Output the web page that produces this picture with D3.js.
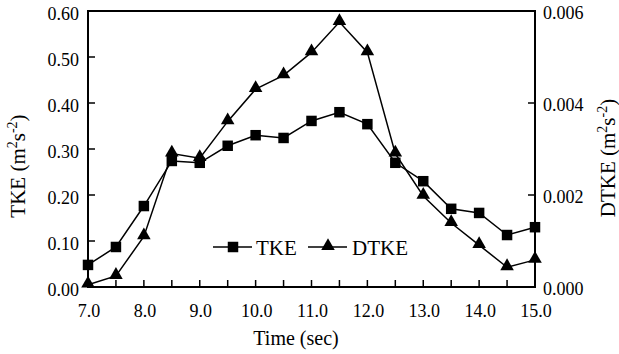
<!DOCTYPE html>
<html><head><meta charset="utf-8">
<script src="https://cdn.jsdelivr.net/npm/d3@7"></script>
<style>body{margin:0;background:#fff}svg{display:block}</style>
</head><body><svg id="c" width="619" height="354"></svg>
<script>
const times = [7.0,7.5,8.0,8.5,9.0,9.5,10.0,10.5,11.0,11.5,12.0,12.5,13.0,13.5,14.0,14.5,15.0];
const tke = [0.048,0.087,0.176,0.274,0.270,0.307,0.330,0.324,0.361,0.380,0.354,0.270,0.230,0.170,0.161,0.113,0.130];
const dtke = [0.00005,0.00024,0.00110,0.00290,0.00280,0.00360,0.00430,0.00460,0.00510,0.00576,0.00510,0.00290,0.00198,0.00139,0.00091,0.00043,0.00059];
const xTicks = [7,8,9,10,11,12,13,14,15];
const xMinor = d3.range(7,15.01,0.5);
const yLeftTicks = [0,0.1,0.2,0.3,0.4,0.5,0.6];
const yRightTicks = [0,0.002,0.004,0.006];

const svg = d3.select("#c").style("font-family",'"Liberation Serif","Times New Roman",serif');
const L=88,R=535,T=11,B=287;
const x = d3.scaleLinear().domain([7,15]).range([L,R]);
const yl = d3.scaleLinear().domain([0,0.6]).range([B,T]);
const yr = d3.scaleLinear().domain([0,0.006]).range([B,T]);

svg.append("rect").attr("x",L).attr("y",T).attr("width",R-L).attr("height",B-T)
  .attr("fill","none").attr("stroke","#000").attr("stroke-width",2);

svg.append("g").selectAll("line").data(xMinor).join("line")
  .attr("x1",d=>x(d)).attr("x2",d=>x(d)).attr("y1",B).attr("y2",B-7)
  .attr("stroke","#000").attr("stroke-width",1.5);
svg.append("g").selectAll("text").data(xTicks).join("text")
  .attr("x",d=>x(d)+1).attr("y",317).attr("text-anchor","middle").attr("font-size",18)
  .text(d=>d.toFixed(1));
svg.append("g").selectAll("line").data(yLeftTicks).join("line")
  .attr("x1",L).attr("x2",L+7).attr("y1",d=>yl(d)).attr("y2",d=>yl(d))
  .attr("stroke","#000").attr("stroke-width",1.5);
svg.append("g").selectAll("text").data(yLeftTicks).join("text")
  .attr("x",L-9).attr("y",d=>yl(d)+8.5).attr("text-anchor","end").attr("font-size",18)
  .text(d=>d.toFixed(2));
svg.append("g").selectAll("line").data(yRightTicks).join("line")
  .attr("x1",R).attr("x2",R-7).attr("y1",d=>yr(d)).attr("y2",d=>yr(d))
  .attr("stroke","#000").attr("stroke-width",1.5);
svg.append("g").selectAll("text").data(yRightTicks).join("text")
  .attr("x",R+8).attr("y",d=>yr(d)+8).attr("text-anchor","start").attr("font-size",18)
  .text(d=>d.toFixed(3));

svg.append("text").attr("x",296).attr("y",345).attr("text-anchor","middle").attr("font-size",20).text("Time (sec)");
function sup(t, base, s1, mid, s2, end){
  t.append("tspan").text(base);
  t.append("tspan").attr("dy",-8).attr("font-size",14).text(s1);
  t.append("tspan").attr("dy",8).text(mid);
  t.append("tspan").attr("dy",-8).attr("font-size",14).text(s2);
  t.append("tspan").attr("dy",8).text(end);
}
const lt = svg.append("text").attr("transform",`translate(25,166) rotate(-90)`).attr("text-anchor","middle").attr("font-size",21);
sup(lt,"TKE (m","2","s","-2",")");
const rt = svg.append("text").attr("transform",`translate(615,158) rotate(-90)`).attr("text-anchor","middle").attr("font-size",21);
sup(rt,"DTKE (m","2","s","-2",")");

const sq = d3.symbol().type(d3.symbolSquare).size(110);
const tri = d3.symbol().type(d3.symbolTriangle).size(80);

const line1 = d3.line().x((d,i)=>x(times[i])).y(d=>yl(d));
const line2 = d3.line().x((d,i)=>x(times[i])).y(d=>yr(d));
svg.append("path").attr("d",line1(tke)).attr("fill","none").attr("stroke","#000").attr("stroke-width",1.5);
svg.append("path").attr("d",line2(dtke)).attr("fill","none").attr("stroke","#000").attr("stroke-width",1.5);
svg.append("g").selectAll("path").data(tke).join("path")
  .attr("transform",(d,i)=>`translate(${x(times[i])},${yl(d)})`).attr("d",sq).attr("fill","#000");
svg.append("g").selectAll("path").data(dtke).join("path")
  .attr("transform",(d,i)=>`translate(${x(times[i])},${yr(d)-1})`).attr("d",tri).attr("fill","#000");

const ly=247;
svg.append("line").attr("x1",213).attr("x2",252).attr("y1",ly).attr("y2",ly).attr("stroke","#000").attr("stroke-width",1.5);
svg.append("path").attr("transform",`translate(233,${ly})`).attr("d",sq).attr("fill","#000");
svg.append("text").attr("x",256).attr("y",ly+8).attr("font-size",21).text("TKE");
svg.append("line").attr("x1",308).attr("x2",347).attr("y1",ly).attr("y2",ly).attr("stroke","#000").attr("stroke-width",1.5);
svg.append("path").attr("transform",`translate(328,${ly-1})`).attr("d",tri).attr("fill","#000");
svg.append("text").attr("x",352).attr("y",ly+8).attr("font-size",21).text("DTKE");
</script></body></html>
